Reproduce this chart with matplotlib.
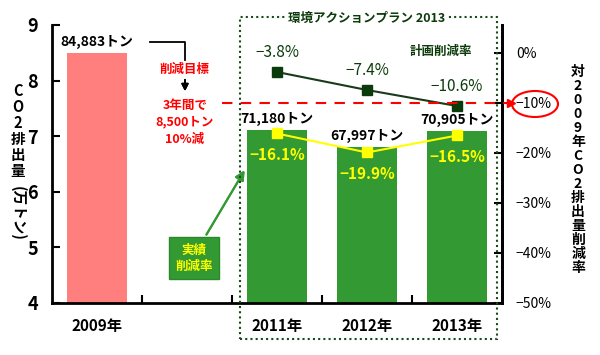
import matplotlib
matplotlib.use("Agg")
import matplotlib.pyplot as plt
from matplotlib.patches import Rectangle, Ellipse
import numpy as np

plt.rcParams['font.family'] = ['Noto Sans CJK JP', 'DejaVu Sans']

# data
years = ['2009年', '', '2011年', '2012年', '2013年']
emis = [8.4883, np.nan, 7.1180, 6.7997, 7.0905]        # 万トン
emis_labels = ['84,883トン', '', '71,180トン', '67,997トン', '70,905トン']
bar_colors = ['#ff7f7f', 'white', '#339933', '#339933', '#339933']
plan_x = [2, 3, 4]
plan_rate = [-3.8, -7.4, -10.6]
actual_x = [2, 3, 4]
actual_rate = [-16.1, -19.9, -16.5]
target_rate = -10

W, H = 600, 355
fig = plt.figure(figsize=(6, 3.55), dpi=100)
ax = fig.add_axes([52 / W, 1 - 303 / H, 450 / W, 278 / H])
ax2 = ax.twinx()

def px(x, y):
    # figure pixel coords (from top-left) -> figure fraction
    return x / W, 1 - y / H

xs = np.arange(len(years))
ax.bar(xs, emis, width=0.67, color=bar_colors, zorder=2)
ax.set_xlim(-0.5, 4.5)
ax.set_ylim(4, 9)
ax.set_yticks([4, 5, 6, 7, 8, 9])
ax.set_xticks(xs)
ax.set_xticklabels(years, fontsize=11, fontweight='bold')
ax.set_xticks(np.arange(0.5, 4.5, 1), minor=True)
ax.tick_params(axis='x', which='major', length=0, pad=11)
ax.tick_params(axis='x', which='minor', direction='in', length=6, width=1.5)
ax.tick_params(axis='y', direction='in', length=6, width=1.5, labelsize=13, pad=10)
for t in ax.get_yticklabels():
    t.set_fontweight('bold')
for s in ['left', 'bottom', 'right']:
    ax.spines[s].set_linewidth(2)
ax.spines['top'].set_visible(False)

for i, (v, lab) in enumerate(zip(emis, emis_labels)):
    if lab:
        ax.text(i, v + 0.2, lab, ha='center', va='center', fontsize=10, fontweight='bold')

# right axis: reduction rate
ax2.set_ylim(-50, 5.6)
ax2.set_yticks([0, -10, -20, -30, -40, -50])
ax2.set_yticklabels([f'{v}%'.replace('-', '−') for v in [0, -10, -20, -30, -40, -50]])
ax2.tick_params(axis='y', direction='in', length=6, width=1.5, labelsize=10, pad=10)
for s in ['top', 'left', 'bottom']:
    ax2.spines[s].set_visible(False)
ax2.spines['right'].set_linewidth(2)

ax2.plot(plan_x, plan_rate, color='#1a3a1a', lw=1.5, marker='s', ms=7,
         mfc='#0b3b0b', mec='#0b3b0b', zorder=4)
for x, r in zip(plan_x, plan_rate):
    ax2.text(x, r + 3.8, f'{r}%'.replace('-', '−'), ha='center', va='center',
             fontsize=11, color='#0b3b0b')
ax2.plot(actual_x, actual_rate, color='#ffff00', lw=1.5, marker='s', ms=7,
         mfc='#ffff00', mec='#ffff00', zorder=4)
for x, r in zip(actual_x, actual_rate):
    ax2.text(x, r - 4.4, f'{r}%'.replace('-', '−'), ha='center', va='center',
             fontsize=11, color='#ffff00', fontweight='bold')
ax2.text(3.82, 0.4, '計画削減率', ha='center', va='center', fontsize=9,
         fontweight='bold', color='#0b3b0b')

# target dashed line at -10%
ax2.plot([1.39, 4.56], [target_rate, target_rate], color='#ff0000', lw=1.5,
         ls=(0, (5, 4)), clip_on=False, zorder=5)
ax2.plot([4.6], [target_rate], marker='>', color='#ff0000', ms=6, clip_on=False)
fig.patches.append(Ellipse(px(535, 104), 46 / W, 26 / H, fill=False,
                           ec='#ff0000', lw=1.5, transform=fig.transFigure))

# dotted frame for action plan
fig.patches.append(Rectangle(px(240, 339), 257 / W, 322 / H, fill=False,
                             ec='#1a4a1a', lw=1.5, ls=(0, (1, 1.5)),
                             transform=fig.transFigure, zorder=10))
fig.text(*px(367, 18), '環境アクションプラン 2013', ha='center', va='center',
         fontsize=9, fontweight='bold', color='#0b3b0b',
         bbox=dict(fc='white', ec='none', pad=2), zorder=11)

# target annotation
fig.lines.append(plt.Line2D([150 / W, 185 / W, 185 / W], [1 - 42 / H, 1 - 42 / H, 1 - 60 / H],
                            color='black', lw=1.3, transform=fig.transFigure))
fig.text(*px(185, 69), '削減目標', ha='center', va='center', fontsize=9,
         fontweight='bold', color='#ff0000')
fig.add_artist(plt.annotate('', xy=px(185, 94), xytext=px(185, 77),
                            xycoords='figure fraction', textcoords='figure fraction',
                            arrowprops=dict(arrowstyle='-|>', color='black', lw=1.3)))
fig.text(*px(185, 122), '3年間で\n8,500トン\n10%減', ha='center', va='center',
         fontsize=9, fontweight='bold', color='#ff0000', linespacing=1.4)

# actual reduction label box
fig.text(*px(194, 258), '実績\n削減率', ha='center', va='center', fontsize=9,
         fontweight='bold', color='#ffff00', linespacing=1.3,
         bbox=dict(fc='#339933', ec='#2a8a2a', boxstyle='square,pad=0.5'), zorder=6)
fig.add_artist(plt.annotate('', xy=px(246, 168), xytext=px(205, 237),
                            xycoords='figure fraction', textcoords='figure fraction',
                            arrowprops=dict(arrowstyle='-|>', color='#339933', lw=1.5,
                                            mutation_scale=14)))

# axis titles (vertical stacked)
fig.text(*px(18, 131), '\n'.join('CO2排出量'), ha='center', va='center',
         fontsize=10.5, fontweight='bold', linespacing=1.0)
fig.text(*px(18, 213), '(万トン)', ha='center', va='center', rotation=270,
         fontsize=10.5, fontweight='bold')
fig.text(*px(578, 170), '\n'.join('対2009年CO2排出量削減率'), ha='center', va='center',
         fontsize=10, fontweight='bold', linespacing=1.0)

fig.savefig('out.png', dpi=100)
